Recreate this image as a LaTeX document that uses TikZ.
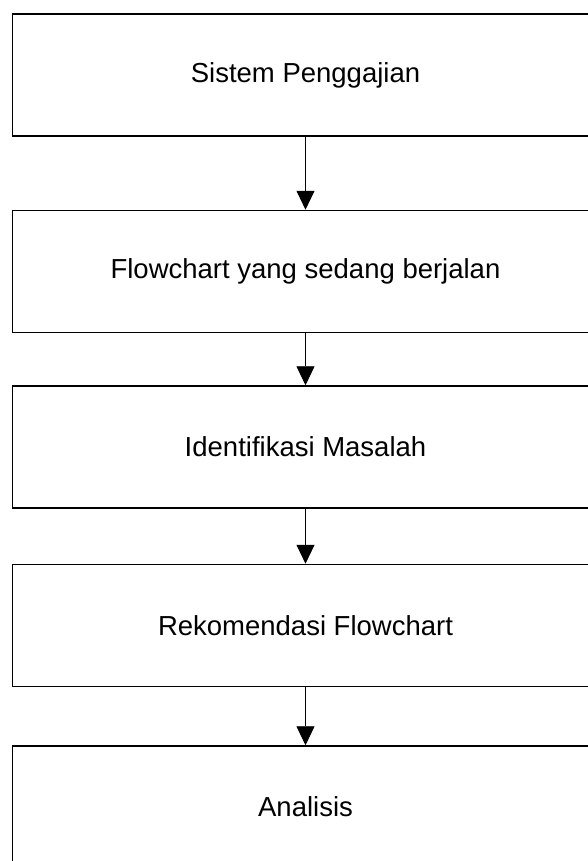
\documentclass[tikz,border=0pt]{standalone}
\usepackage{fontspec}
\setmainfont{Liberation Sans}
\usetikzlibrary{arrows.meta}
\begin{document}
\begin{tikzpicture}[x=1pt,y=-1pt]
    \useasboundingbox (0,0) rectangle (587,861);
	\tikzstyle{every node}=[draw,line width=1.5pt,shape=rectangle,minimum width=586pt,minimum height=122pt,inner sep=0pt,font=\fontsize{27.5}{32}\selectfont];
    \tikzstyle{every path}=[line width=0.9pt];

    \node at (305.5, 75)    (sistem)   {Sistem Penggajian};
    \node at (305.5, 271.5) (flow)     {Flowchart yang sedang berjalan};
    \node at (305.5, 447)   (masalah)  {Identifikasi Masalah};
    \node at (305.5, 625.5) (rekom)    {Rekomendasi Flowchart};
    \node at (305.5, 807)   (analisis) {Analisis};

    \draw[-{Triangle[width=18pt,length=19pt]}] (sistem) to (flow);
    \draw[-{Triangle[width=18pt,length=19pt]}] (flow) to (masalah);
    \draw[-{Triangle[width=18pt,length=19pt]}] (masalah) to (rekom);
    \draw[-{Triangle[width=18pt,length=19pt]}] (rekom) to (analisis);
\end{tikzpicture}
\end{document}
